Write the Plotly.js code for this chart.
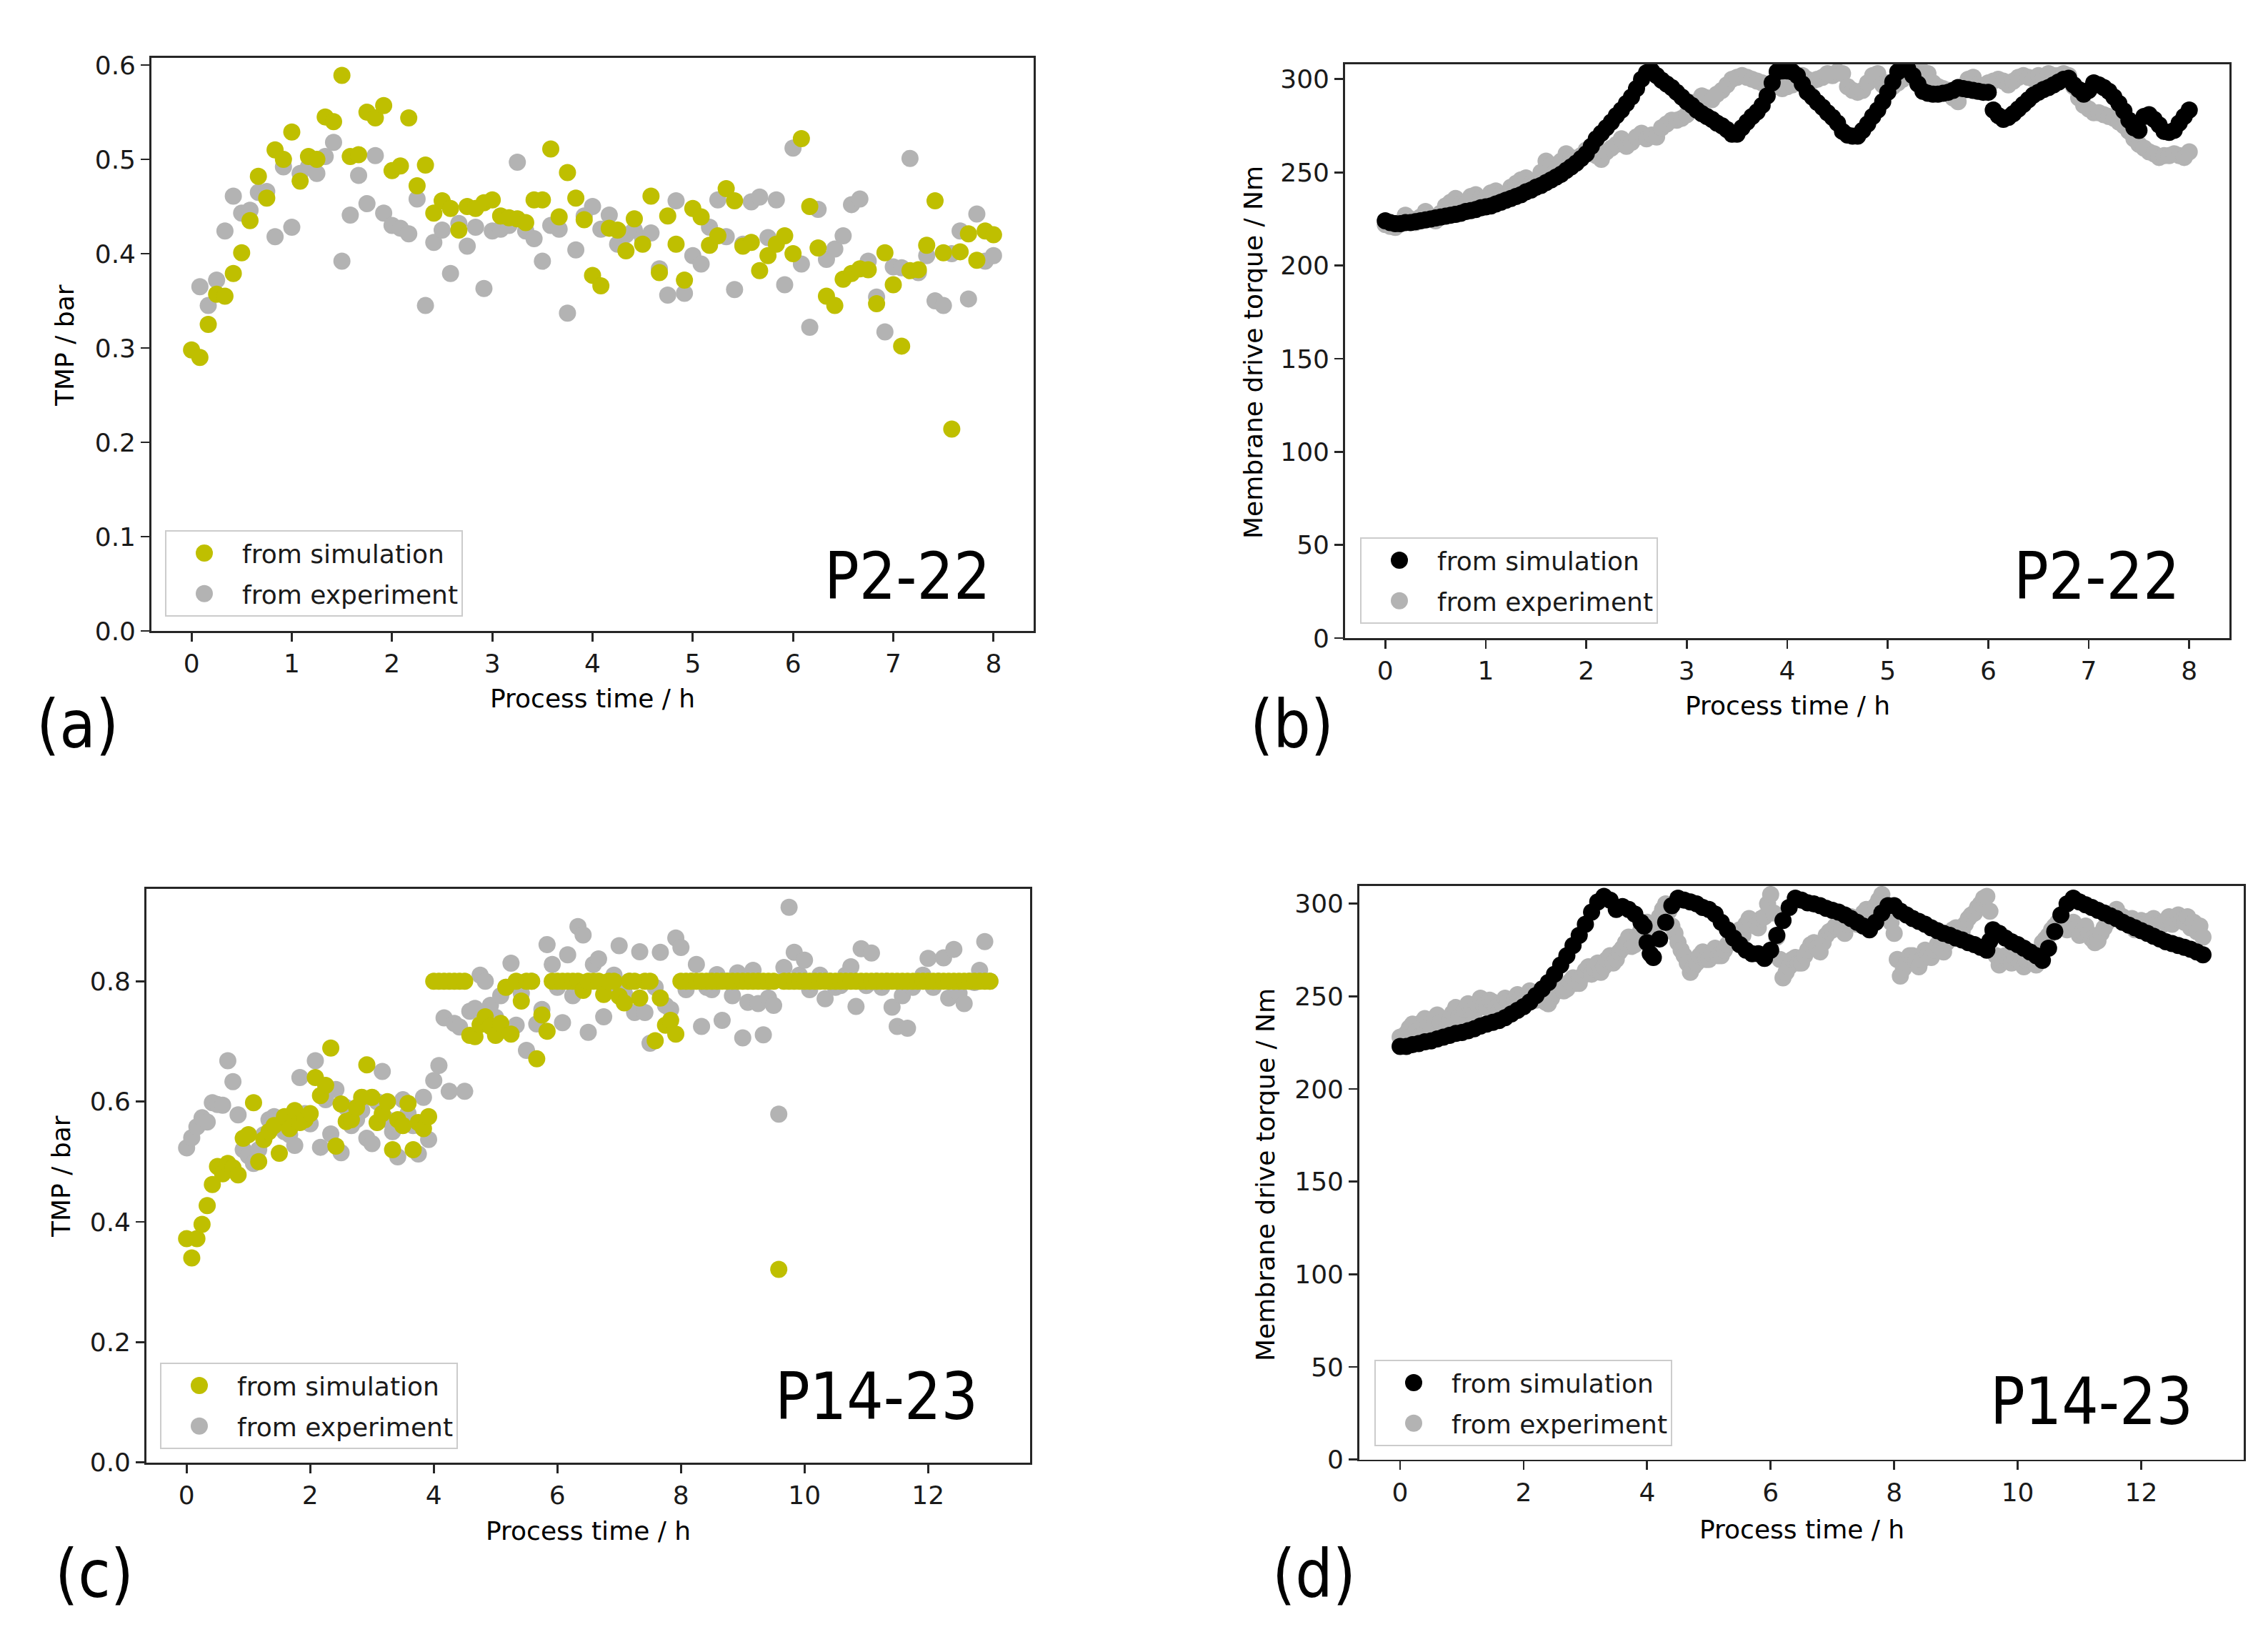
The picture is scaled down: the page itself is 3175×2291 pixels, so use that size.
<!DOCTYPE html>
<html>
<head>
<meta charset="utf-8">
<script src="https://cdn.plot.ly/plotly-3.0.1.min.js"></script>
<style>
  html, body { margin: 0; padding: 0; background: #ffffff; }
  #chart { width: 3175px; height: 2291px; }
</style>
</head>
<body>
<div id="chart"></div>
<script>
// 1. data (time in h)
// (a) P2-22 TMP, one sample every 5 min
const stepA = 1 / 12;
const tmpSimA = [
  0.298, 0.290, 0.325, 0.357, 0.355, 0.379, 0.401, 0.435, 0.482, 0.459,
  0.510, 0.500, 0.529, 0.477, 0.503, 0.500, 0.545, 0.540, 0.589, 0.503,
  0.505, 0.550, 0.544, 0.557, 0.488, 0.493, 0.544, 0.472, 0.494, 0.443,
  0.456, 0.448, 0.425, 0.450, 0.448, 0.454, 0.457, 0.440, 0.438, 0.437,
  0.433, 0.457, 0.457, 0.511, 0.439, 0.486, 0.459, 0.436, 0.377, 0.366,
  0.427, 0.425, 0.403, 0.437, 0.410, 0.461, 0.380, 0.440, 0.410, 0.372,
  0.448, 0.439, 0.409, 0.419, 0.469, 0.456, 0.408, 0.412, 0.382, 0.398,
  0.410, 0.419, 0.400, 0.522, 0.450, 0.406, 0.355, 0.345, 0.373, 0.379,
  0.384, 0.383, 0.347, 0.401, 0.367, 0.302, 0.382, 0.383, 0.409, 0.456,
  0.401, 0.214, 0.402, 0.421, 0.393, 0.424, 0.420,
];
// experiment starts one sample later
const tmpExpA = [
  0.365, 0.345, 0.372, 0.424, 0.461, 0.443, 0.446, 0.465, 0.466, 0.418,
  0.492, 0.428, 0.485, 0.492, 0.485, 0.503, 0.518, 0.392, 0.441, 0.483,
  0.453, 0.504, 0.443, 0.430, 0.427, 0.421, 0.458, 0.345, 0.412, 0.425,
  0.379, 0.432, 0.408, 0.428, 0.363, 0.424, 0.426, 0.430, 0.497, 0.424,
  0.416, 0.392, 0.430, 0.426, 0.337, 0.404, 0.440, 0.450, 0.426, 0.441,
  0.410, 0.420, 0.425, 0.416, 0.422, 0.384, 0.356, 0.456, 0.358, 0.398,
  0.389, 0.428, 0.457, 0.418, 0.362, 0.410, 0.455, 0.460, 0.417, 0.457,
  0.367, 0.512, 0.389, 0.322, 0.447, 0.394, 0.405, 0.419, 0.452, 0.458,
  0.392, 0.354, 0.317, 0.386, 0.385, 0.501, 0.380, 0.398, 0.350, 0.345,
  0.400, 0.424, 0.352, 0.442, 0.392, 0.398,
];

// (b) P2-22 torque, one sample every 3 min
const stepB = 0.05;
const torqueSimB = [
  224, 223, 222.5, 222.5, 223, 223, 223.5, 224, 224.5, 225,
  225.5, 226, 226.5, 227, 227.5, 228, 229, 229.5, 230, 231,
  231.5, 232, 233, 234, 235, 236, 237, 238, 239.5, 240.5,
  242, 243, 244.5, 246, 247.5, 249, 251, 253, 255, 257.5,
  260, 264, 268, 271, 274, 277, 280.5, 283.5, 287, 290.5,
  295, 300, 303.5, 304.5, 302, 299.5, 297.5, 295.5, 293, 290.5,
  288, 286, 283.5, 281.5, 280, 278.5, 276.5, 275, 273, 270.5,
  270.5, 274, 277, 280, 282.5, 286, 291, 298, 304, 304.5,
  304.5, 304, 302, 297.5, 293, 290.5, 287.5, 285, 282, 279.5,
  276.5, 272, 270, 269.5, 269.5, 272.5, 276, 280, 283.5, 288,
  293, 298.5, 304, 305.5, 305.5, 302, 297.5, 293.5, 292.5, 292,
  292, 292.5, 293, 294, 295.5, 295, 294.5, 294, 293.5, 293,
  293, 283.5, 280.5, 278.5, 279.5, 281.5, 284, 286.5, 289, 291.5,
  293, 294.5, 295.5, 297, 298.5, 300, 300.5, 297, 294.5, 292,
  294, 298, 297, 295.5, 293.5, 290.5, 287, 283, 278, 274,
  272.5, 280, 281, 278.5, 275.5, 272, 271.5, 272.5, 276.5, 280,
  283.5,
];
const torqueExpB = [
  222, 221, 220.5, 223, 227, 225, 223, 226, 229, 226,
  224, 228, 232, 234, 236, 233, 233, 237, 238, 236,
  236, 239, 240, 238, 238, 242, 244, 246, 247, 244,
  245, 250, 256, 254, 252, 256, 260, 258, 257, 259,
  262, 260, 259, 257, 261, 263, 265, 268, 264, 266,
  269, 271, 268, 270, 269, 274, 276, 278, 278, 279,
  281, 284, 288, 291, 290, 289, 292, 294, 297, 300,
  301, 302, 301, 300, 299, 298, 297, 296, 296, 295,
  296, 297, 301, 302, 300, 299, 300, 301, 303, 302,
  304, 303, 296, 294, 293, 294, 298, 302, 303, 297,
  298, 296, 298, 300, 302, 303, 304, 304, 303, 298,
  296, 295, 294, 290, 288, 294, 300, 301, 297, 296,
  298, 299, 300, 299, 297, 299, 301, 302, 301, 300,
  302, 301, 303, 302, 302, 303, 302, 296, 290, 286,
  284, 282, 282, 281, 280, 279, 277, 275, 272, 268,
  265, 263, 261, 260, 258, 259, 259, 260, 259, 258,
  261,
];

// (c) P14-23 TMP, one sample every 5 min
const stepC = 1 / 12;
const tmpSimC = [
  0.372, 0.340, 0.372, 0.396, 0.427, 0.462, 0.492, 0.480, 0.497, 0.490,
  0.478, 0.539, 0.545, 0.598, 0.500, 0.537, 0.550, 0.560, 0.514, 0.575,
  0.555, 0.585, 0.565, 0.570, 0.580, 0.640, 0.610, 0.627, 0.689, 0.526,
  0.596, 0.567, 0.570, 0.590, 0.607, 0.661, 0.607, 0.565, 0.580, 0.600,
  0.520, 0.570, 0.560, 0.597, 0.520, 0.565, 0.555, 0.575, 0.800, 0.800,
  0.800, 0.800, 0.800, 0.800, 0.800, 0.710, 0.708, 0.728, 0.741, 0.725,
  0.710, 0.730, 0.790, 0.712, 0.800, 0.767, 0.800, 0.800, 0.671, 0.744,
  0.717, 0.800, 0.800, 0.800, 0.800, 0.800, 0.800, 0.785, 0.800, 0.800,
  0.800, 0.778, 0.800, 0.800, 0.775, 0.764, 0.800, 0.800, 0.772, 0.800,
  0.800, 0.701, 0.772, 0.727, 0.735, 0.712, 0.800, 0.800, 0.800, 0.800,
  0.800, 0.800, 0.800, 0.800, 0.800, 0.800, 0.800, 0.800, 0.800, 0.800,
  0.800, 0.800, 0.800, 0.800, 0.800, 0.321, 0.800, 0.800, 0.800, 0.800,
  0.800, 0.800, 0.800, 0.800, 0.800, 0.800, 0.800, 0.800, 0.800, 0.800,
  0.800, 0.800, 0.800, 0.800, 0.800, 0.800, 0.800, 0.800, 0.800, 0.800,
  0.800, 0.800, 0.800, 0.800, 0.800, 0.800, 0.800, 0.800, 0.800, 0.800,
  0.800, 0.800, 0.800, 0.800, 0.800, 0.800, 0.800,
];
const tmpExpC = [
  0.523, 0.540, 0.558, 0.573, 0.566, 0.598, 0.595, 0.594, 0.668, 0.633,
  0.578, 0.520, 0.510, 0.497, 0.520, 0.545, 0.570, 0.575, 0.560, 0.550,
  0.545, 0.527, 0.640, 0.580, 0.563, 0.668, 0.524, 0.603, 0.546, 0.620,
  0.515, 0.590, 0.560, 0.570, 0.585, 0.539, 0.530, 0.600, 0.650, 0.570,
  0.550, 0.508, 0.603, 0.580, 0.560, 0.513, 0.607, 0.537, 0.635, 0.660,
  0.739, 0.617, 0.730, 0.724, 0.617, 0.750, 0.755, 0.810, 0.800, 0.760,
  0.740, 0.776, 0.790, 0.830, 0.727, 0.780, 0.685, 0.800, 0.729, 0.753,
  0.861, 0.828, 0.790, 0.731, 0.844, 0.776, 0.891, 0.877, 0.715, 0.828,
  0.837, 0.741, 0.790, 0.810, 0.859, 0.780, 0.800, 0.748, 0.849, 0.748,
  0.697, 0.790, 0.848, 0.760, 0.753, 0.872, 0.856, 0.786, 0.800, 0.828,
  0.725, 0.790, 0.786, 0.811, 0.735, 0.800, 0.776, 0.814, 0.706, 0.765,
  0.818, 0.763, 0.711, 0.772, 0.760, 0.579, 0.823, 0.923, 0.848, 0.810,
  0.835, 0.786, 0.800, 0.810, 0.771, 0.800, 0.790, 0.793, 0.810, 0.824,
  0.758, 0.854, 0.793, 0.847, 0.800, 0.790, 0.800, 0.757, 0.725, 0.776,
  0.722, 0.790, 0.800, 0.810, 0.838, 0.790, 0.800, 0.839, 0.772, 0.853,
  0.780, 0.763, 0.800, 0.798, 0.818, 0.866, 0.800,
];

// (d) P14-23 torque
const timeSimD = [
  0, 0.1, 0.2, 0.3, 0.4, 0.5, 0.6, 0.7, 0.8, 0.9,
  1.0, 1.1, 1.2, 1.3, 1.4, 1.5, 1.6, 1.7, 1.8, 1.9,
  2.0, 2.1, 2.2, 2.3, 2.4, 2.5, 2.6, 2.7, 2.8, 2.9,
  3.0, 3.1, 3.2, 3.3, 3.4, 3.5, 3.6, 3.7, 3.8, 3.9, 3.95,
  4.0, 4.05, 4.1, 4.2, 4.3, 4.4, 4.5, 4.6, 4.7, 4.8, 4.9,
  5.0, 5.1, 5.2, 5.3, 5.4, 5.5, 5.6, 5.7, 5.8, 5.9,
  6.0, 6.1, 6.2, 6.3, 6.4, 6.5, 6.6, 6.7, 6.8, 6.9,
  7.0, 7.1, 7.2, 7.3, 7.4, 7.5, 7.6, 7.7, 7.8, 7.9,
  8.0, 8.1, 8.2, 8.3, 8.4, 8.5, 8.6, 8.7, 8.8, 8.9,
  9.0, 9.1, 9.2, 9.3, 9.4, 9.5, 9.55, 9.6, 9.7, 9.8, 9.9,
  10.0, 10.1, 10.2, 10.3, 10.4, 10.5, 10.6, 10.7, 10.8, 10.9,
  11.0, 11.1, 11.2, 11.3, 11.4, 11.5, 11.6, 11.7, 11.8, 11.9,
  12.0, 12.1, 12.2, 12.3, 12.4, 12.5, 12.6, 12.7, 12.8, 12.9, 13.0,
];
const torqueSimD = [
  223, 223, 224, 224.5, 225.5, 226, 227, 228, 229, 230,
  230.5, 231.5, 232.5, 234, 235, 236, 237, 238.5, 240.5, 242.5,
  244.5, 247, 250.5, 254, 257.5, 262, 267, 272, 277.5, 283,
  289, 295.5, 301, 304, 302, 297, 298.5, 297, 294.5, 290, 288,
  279, 273, 271, 281, 290, 299, 303, 302, 301, 300, 298,
  297, 294.5, 290, 286, 281.5, 278, 275, 273, 273, 270.5,
  275, 283, 291, 298, 303, 302, 300.5, 300, 299, 297.5,
  296.5, 295.5, 294, 292, 290, 288, 286, 290, 295, 299,
  299, 296, 294, 292, 290.5, 289, 287, 285.5, 284, 283,
  281.5, 280.5, 279, 278, 276.5, 275, 280, 286, 284, 281.5, 279.5,
  278, 276, 274, 272, 269.5, 276, 285, 294, 300, 303,
  301, 299.5, 298, 296.5, 295, 293.5, 292, 290, 288.5, 287,
  285.5, 284, 282.5, 281, 279.5, 278.5, 277.5, 276.5, 275.5, 274, 272.5,
];
// experiment, one sample every 3 min
const stepD = 0.05;
const torqueExpD = [
  228, 226, 230, 233, 235, 231, 228, 236, 238, 234,
  232, 238, 240, 236, 229, 233, 236, 241, 244, 239,
  238, 243, 246, 242, 241, 246, 249, 245, 244, 248,
  247, 244, 242, 246, 249, 247, 244, 248, 251, 249,
  247, 250, 253, 251, 248, 252, 250, 247, 246, 249,
  252, 255, 256, 253, 254, 258, 260, 257, 257, 261,
  264, 266, 262, 265, 268, 263, 266, 270, 272, 268,
  270, 274, 276, 279, 282, 277, 278, 283, 286, 289,
  290, 287, 283, 289, 293, 297, 300, 296, 288, 284,
  279, 275, 272, 268, 263, 266, 268, 272, 274, 270,
  270, 273, 276, 272, 272, 275, 278, 281, 281, 284,
  286, 283, 289, 292, 291, 288, 287, 292, 293, 300,
  305, 295, 282, 270, 260, 263, 266, 270, 271, 268,
  268, 272, 275, 278, 279, 276, 274, 279, 283, 285,
  286, 288, 290, 286, 284, 289, 293, 291, 289, 292,
  295, 297, 292, 296, 299, 302, 305, 300, 297, 290,
  284, 270, 261, 265, 268, 272, 272, 269, 266, 270,
  275, 273, 271, 275, 278, 276, 274, 279, 283, 286,
  287, 284, 285, 289, 292, 294, 295, 298, 300, 303,
  304, 296, 284, 272, 267, 270, 272, 269, 268, 271,
  271, 268, 266, 269, 270, 273, 267, 272, 279, 281,
  283, 286, 288, 290, 291, 289, 286, 288, 290, 287,
  283, 285, 288, 284, 281, 279, 280, 284, 287, 290,
  292, 295, 297, 294, 293, 290, 289, 292, 286, 288,
  291, 289, 288, 291, 292, 289, 287, 290, 291, 293,
  289, 292, 294, 291, 290, 293, 287, 290, 285, 288,
  282,
];

// 2. style
const W = 3175;
const H = 2291;
const FONT = '"DejaVu Sans", Verdana, sans-serif';
const LABEL_FONT = '"Liberation Sans Narrow", "DejaVu Sans Condensed", "Liberation Sans", sans-serif';
const TEXT = "#1a1a1a";
const YELLOW = "#bfbf00";
const GREY = "#b3b3b3";
const BLACK = "#000000";
const MS = 24;

const px = (x) => x / W;
const py = (y) => 1 - y / H;
// sampling instants of a logged series
const times = (n, step, start) => Array.from({ length: n }, (_, i) => +(start + i * step).toFixed(4));

function scatter(x, y, color, name, axes, legend, rank) {
  return {
    x: x, y: y, type: "scatter", mode: "markers", name: name,
    xaxis: axes[0], yaxis: axes[1],
    legend: legend, legendrank: rank, legendgroup: name,
    marker: { color: color, size: MS, line: { width: 0 } },
    cliponaxis: true,
  };
}

const traces = [
  scatter(times(tmpExpA.length, stepA, stepA), tmpExpA, GREY, "from experiment", ["x", "y"], "legend", 2),
  scatter(times(tmpSimA.length, stepA, 0), tmpSimA, YELLOW, "from simulation", ["x", "y"], "legend", 1),
  scatter(times(torqueExpB.length, stepB, 0), torqueExpB, GREY, "from experiment", ["x2", "y2"], "legend2", 2),
  scatter(times(torqueSimB.length, stepB, 0), torqueSimB, BLACK, "from simulation", ["x2", "y2"], "legend2", 1),
  scatter(times(tmpExpC.length, stepC, 0), tmpExpC, GREY, "from experiment", ["x3", "y3"], "legend3", 2),
  scatter(times(tmpSimC.length, stepC, 0), tmpSimC, YELLOW, "from simulation", ["x3", "y3"], "legend3", 1),
  scatter(times(torqueExpD.length, stepD, 0), torqueExpD, GREY, "from experiment", ["x4", "y4"], "legend4", 2),
  scatter(timeSimD, torqueSimD, BLACK, "from simulation", ["x4", "y4"], "legend4", 1),
];

function axis(extra) {
  return Object.assign({
    showline: true, mirror: true, linecolor: "#262626", linewidth: 2.8,
    ticks: "outside", ticklen: 12, tickwidth: 2.8, tickcolor: "#262626",
    showgrid: false, zeroline: false, fixedrange: true,
    tickfont: { family: FONT, size: 36, color: TEXT },
  }, extra);
}

// plot boxes in pixels
function xdom(l, r) { return [px(l), px(r)]; }
function ydom(t, b) { return [py(b), py(t)]; }

function legendAt(left, top) {
  return {
    x: px(left), y: py(top), xanchor: "left", yanchor: "top",
    bgcolor: "rgba(255,255,255,0.8)", bordercolor: "#cccccc", borderwidth: 2,
    font: { family: FONT, size: 36, color: TEXT },
    itemwidth: 96, tracegroupgap: 7, traceorder: "grouped",
  };
}

function note(text, x, y, size, family, angle) {
  return {
    text: text, xref: "paper", yref: "paper", x: px(x), y: py(y),
    xanchor: "center", yanchor: "middle", showarrow: false,
    textangle: angle || 0,
    font: { family: family, size: size, color: "#000000" },
  };
}

const layout = {
  width: W, height: H,
  margin: { l: 0, r: 0, t: 0, b: 0 },
  paper_bgcolor: "#ffffff", plot_bgcolor: "#ffffff",
  showlegend: true,

  xaxis: axis({ domain: xdom(212, 1447), anchor: "y", range: [-0.4, 8.4], tick0: 0, dtick: 1 }),
  yaxis: axis({ domain: ydom(81, 883), anchor: "x", range: [0, 0.6076], tick0: 0, dtick: 0.1, tickformat: ".1f" }),
  xaxis2: axis({ domain: xdom(1883, 3121), anchor: "y2", range: [-0.4, 8.4], tick0: 0, dtick: 1 }),
  yaxis2: axis({ domain: ydom(89.5, 893), anchor: "x2", range: [0, 308.2], tick0: 0, dtick: 50 }),
  xaxis3: axis({ domain: xdom(205, 1442), anchor: "y3", range: [-0.65, 13.65], tick0: 0, dtick: 2 }),
  yaxis3: axis({ domain: ydom(1243.6, 2046.8), anchor: "x3", range: [0, 0.954], tick0: 0, dtick: 0.2, tickformat: ".1f" }),
  xaxis4: axis({ domain: xdom(1903, 3141), anchor: "y4", range: [-0.66, 13.66], tick0: 0, dtick: 2 }),
  yaxis4: axis({ domain: ydom(1240, 2042.5), anchor: "x4", range: [0, 309.6], tick0: 0, dtick: 50 }),

  legend: legendAt(231, 742),
  legend2: legendAt(1904, 752),
  legend3: legendAt(224, 1907),
  legend4: legendAt(1924, 1903),

  annotations: [
    // axis titles
    note("Process time / h", 829, 977, 36, FONT),
    note("Process time / h", 2502, 988, 36, FONT),
    note("Process time / h", 823, 2142, 36, FONT),
    note("Process time / h", 2522, 2140, 36, FONT),
    note("TMP / bar", 91, 484, 36, FONT, -90),
    note("Membrane drive torque / Nm", 1754, 493, 36, FONT, -90),
    note("TMP / bar", 85, 1647, 36, FONT, -90),
    note("Membrane drive torque / Nm", 1771, 1644, 36, FONT, -90),
    // batch labels
    note("P2-22", 1270, 806, 90, LABEL_FONT),
    note("P2-22", 2935, 806, 90, LABEL_FONT),
    note("P14-23", 1227, 1955, 90, LABEL_FONT),
    note("P14-23", 2928, 1961, 90, LABEL_FONT),
    // panel letters
    note("(a)", 108, 1014, 92, LABEL_FONT),
    note("(b)", 1808, 1014, 92, LABEL_FONT),
    note("(c)", 132, 2203, 92, LABEL_FONT),
    note("(d)", 1839, 2203, 92, LABEL_FONT),
  ],
};

Plotly.newPlot("chart", traces, layout, { staticPlot: true, displayModeBar: false }).then(() => {
  // legend symbols are capped at 16 px, bring them up to the plotted marker size
  document.querySelectorAll(".legendpoints path.scatterpts").forEach((p) => {
    const t = p.getAttribute("transform") || "";
    p.setAttribute("transform", t + " scale(1.5)");
  });
});
</script>
</body>
</html>
